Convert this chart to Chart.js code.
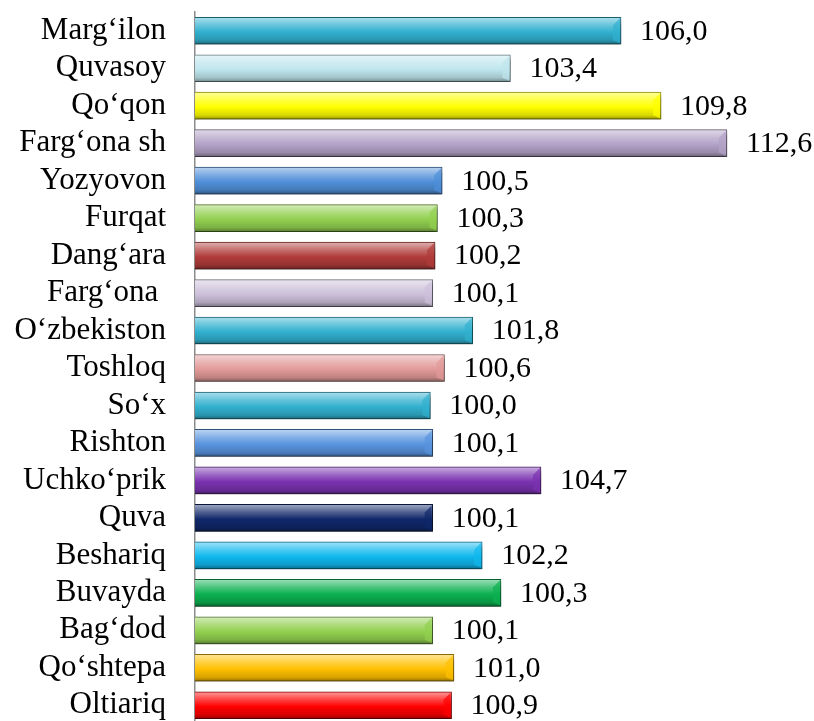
<!DOCTYPE html>
<html>
<head>
<meta charset="utf-8">
<script src="https://cdn.jsdelivr.net/npm/chart.js@4/dist/chart.umd.min.js"></script>
<style>
    html, body { margin: 0; padding: 0; background: #fff; overflow: hidden; }
    #wrap { position: relative; width: 814px; height: 725px; }
</style>
</head>
<body>
<div id="wrap"><canvas id="myChart"></canvas></div>
<script>
const regions = ['Marg‘ilon', 'Quvasoy', 'Qo‘qon', 'Farg‘ona sh', 'Yozyovon', 'Furqat', 'Dang‘ara',
    'Farg‘ona ', 'O‘zbekiston', 'Toshloq', 'So‘x', 'Rishton', 'Uchko‘prik', 'Quva', 'Beshariq',
    'Buvayda', 'Bag‘dod', 'Qo‘shtepa', 'Oltiariq'];

// printed numbers next to the bars
const shownValues = [106.0, 103.4, 109.8, 112.6, 100.5, 100.3, 100.2, 100.1, 101.8, 100.6,
    100.0, 100.1, 104.7, 100.1, 102.2, 100.3, 100.1, 101.0, 100.9];

// bar lengths as drawn (two bars in the picture don't agree with their printed numbers)
const barValues = [108.1, 103.4, 109.8, 112.6, 100.5, 100.3, 100.2, 100.1, 101.8, 100.6,
    100.0, 100.1, 104.7, 100.1, 102.2, 103.0, 100.1, 101.0, 100.9];

const barColors = ['#31b0cf', '#bfe6ee', '#ffff00', '#b3a2c7', '#4f8fd8', '#92d050', '#b03c3a',
    '#ccc0da', '#31b0cf', '#e29a98', '#31b0cf', '#5894de', '#7a32b0', '#10286a', '#10b8ee',
    '#0cb050', '#92d050', '#ffc000', '#ff0000'];

function mix(hex, target, t) {
    const n = parseInt(hex.slice(1), 16);
    const r = (n >> 16) & 255, g = (n >> 8) & 255, b = n & 255;
    const m = v => Math.round(v + (target - v) * t);
    return 'rgb(' + m(r) + ',' + m(g) + ',' + m(b) + ')';
}

const BAR_H = 27;

function barGradient(context) {
    const chart = context.chart;
    const base = barColors[context.dataIndex];
    if (!chart.scales.y || context.dataIndex === undefined) return base;
    const y = chart.scales.y.getPixelForValue(context.dataIndex);
    if (!isFinite(y)) return base;
    const g = chart.ctx.createLinearGradient(0, y - BAR_H / 2, 0, y + BAR_H / 2);
    g.addColorStop(0, mix(base, 255, 0.6));
    g.addColorStop(0.3, mix(base, 255, 0.25));
    g.addColorStop(0.55, base);
    g.addColorStop(0.85, mix(base, 0, 0.15));
    g.addColorStop(1, mix(base, 0, 0.4));
    return g;
}

const shadowPlugin = {
    id: 'shadow',
    beforeDatasetsDraw(chart) {
        const ctx = chart.ctx;
        ctx.save();
        ctx.shadowColor = 'rgba(0,0,0,0.45)';
        ctx.shadowBlur = 4;
        ctx.shadowOffsetY = 4;
        ctx.shadowOffsetX = 1;
    },
    afterDatasetsDraw(chart) {
        chart.ctx.restore();
        const ctx = chart.ctx;
        const meta = chart.getDatasetMeta(0);
        ctx.save();
        meta.data.forEach((bar, i) => {
            const base = barColors[i];
            const top = bar.y - bar.height / 2;
            const bot = bar.y + bar.height / 2;
            const x0 = bar.base;
            // bevel faces at both ends
            ctx.fillStyle = mix(base, 255, 0.15);
            ctx.globalAlpha = 0.7;
            ctx.beginPath();
            ctx.moveTo(x0 + 1, top + 1);
            ctx.lineTo(x0 + 8, top + 8);
            ctx.lineTo(x0 + 8, bot - 5);
            ctx.lineTo(x0 + 1, bot - 1);
            ctx.closePath();
            ctx.fill();
            ctx.fillStyle = base;
            ctx.beginPath();
            ctx.moveTo(bar.x - 1, top + 1);
            ctx.lineTo(bar.x - 8, top + 8);
            ctx.lineTo(bar.x - 8, bot - 4);
            ctx.lineTo(bar.x - 1, bot - 1);
            ctx.closePath();
            ctx.fill();
            ctx.globalAlpha = 1;

            ctx.fillStyle = '#000';
            ctx.font = '30px "Liberation Serif", "Times New Roman", serif';
            ctx.textAlign = 'left';
            ctx.textBaseline = 'middle';
            ctx.fillText(shownValues[i].toFixed(1).replace('.', ','), bar.x + 19, bar.y + 1);
        });
        ctx.restore();
    }
};

const ctx = document.getElementById('myChart').getContext('2d');
const myChart = new Chart(ctx, {
    type: 'bar',
    data: {
        labels: regions,
        datasets: [{
            data: barValues,
            backgroundColor: barGradient,
            borderColor: (c) => mix(barColors[c.dataIndex] || '#888888', 0, 0.45),
            borderWidth: 1,
            borderSkipped: false,
            barThickness: BAR_H
        }]
    },
    options: {
        indexAxis: 'y',
        responsive: true,
        maintainAspectRatio: false,
        animation: false,
        layout: { padding: { top: 12, bottom: 1, left: 0, right: 0 } },
        plugins: {
            legend: { display: false },
            tooltip: { enabled: false }
        },
        scales: {
            x: {
                display: false,
                min: 90,
                max: 116.3
            },
            y: {
                grid: { display: false },
                border: { display: true, color: '#8c8c8c', width: 1.5 },
                ticks: {
                    color: '#000',
                    padding: 21,
                    autoSkip: false,
                    font: { family: '"Liberation Serif", "Times New Roman", serif', size: 31 }
                },
                afterFit(scale) {
                    scale.width = 195;
                    scale.paddingTop = 0;
                    scale.paddingBottom = 0;
                }
            }
        }
    },
    plugins: [shadowPlugin]
});
</script>
</body>
</html>
